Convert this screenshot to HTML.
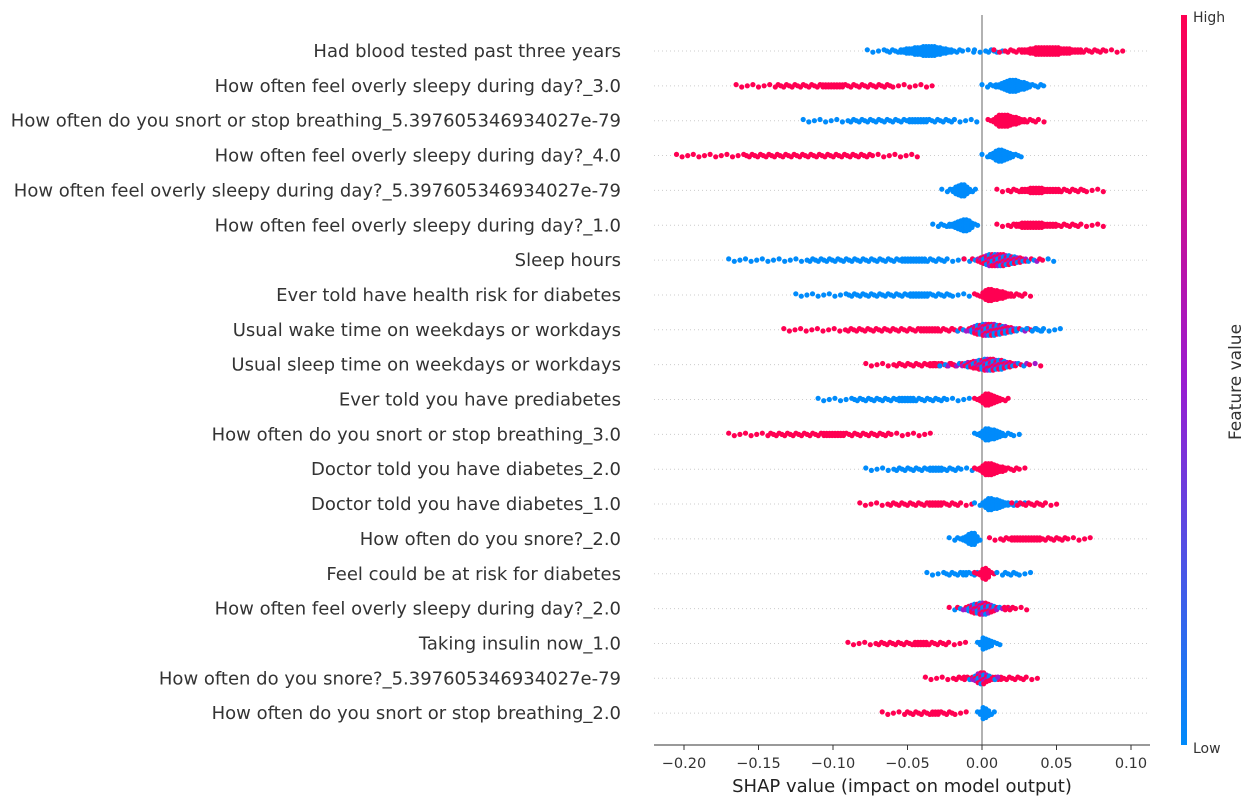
<!DOCTYPE html>
<html><head><meta charset="utf-8">
<style>
html,body{margin:0;padding:0;background:#fff;}
svg{display:block;font-family:"DejaVu Sans","Liberation Sans",sans-serif;}
</style></head>
<body>
<svg id="chart" width="1254" height="805" viewBox="0 0 1254 805" xmlns="http://www.w3.org/2000/svg">
  <defs>
    <linearGradient id="cbar" x1="0" y1="1" x2="0" y2="0">
      <stop offset="0" stop-color="#008bfb"/>
      <stop offset="0.5" stop-color="#9a1bd0"/>
      <stop offset="1" stop-color="#ff0052"/>
    </linearGradient>
  </defs>
  <g id="grid"></g>
  <line x1="982" y1="15" x2="982" y2="745" stroke="#999" stroke-width="1.5"/>
  <g id="dots"></g>
  <g id="labels"></g>
  <line x1="654" y1="745" x2="1150" y2="745" stroke="#333" stroke-width="1"/>
  <g id="xticks"></g>
  <text x="902" y="792" font-size="18" text-anchor="middle" fill="#222">SHAP value (impact on model output)</text>
  <rect x="1181" y="15" width="6" height="730" fill="url(#cbar)"/>
  <text x="1193" y="22" font-size="14" fill="#333">High</text>
  <text x="1193" y="753" font-size="14" fill="#333">Low</text>
  <text x="1241" y="382" font-size="17" fill="#333" text-anchor="middle" transform="rotate(-90 1241 382)">Feature value</text>
</svg>
<script>
const features = [
 "Had blood tested past three years",
 "How often feel overly sleepy during day?_3.0",
 "How often do you snort or stop breathing_5.397605346934027e-79",
 "How often feel overly sleepy during day?_4.0",
 "How often feel overly sleepy during day?_5.397605346934027e-79",
 "How often feel overly sleepy during day?_1.0",
 "Sleep hours",
 "Ever told have health risk for diabetes",
 "Usual wake time on weekdays or workdays",
 "Usual sleep time on weekdays or workdays",
 "Ever told you have prediabetes",
 "How often do you snort or stop breathing_3.0",
 "Doctor told you have diabetes_2.0",
 "Doctor told you have diabetes_1.0",
 "How often do you snore?_2.0",
 "Feel could be at risk for diabetes",
 "How often feel overly sleepy during day?_2.0",
 "Taking insulin now_1.0",
 "How often do you snore?_5.397605346934027e-79",
 "How often do you snort or stop breathing_2.0"
];
// groups per feature: [colour, min, max, peak, density]
const groups = [
 [["b",-0.077,-0.005,-0.035,11],["b",-0.005,0.015,0.005,1],["r",0.008,0.097,0.042,9]],
 [["r",-0.165,-0.033,-0.1,3.5],["b",0.0,0.045,0.02,13]],
 [["b",-0.12,-0.003,-0.04,3.5],["r",0.004,0.045,0.012,14]],
 [["r",-0.205,-0.04,-0.11,2.5],["b",0.0,0.03,0.012,13]],
 [["b",-0.027,-0.003,-0.013,13],["r",0.01,0.085,0.035,6]],
 [["b",-0.033,-0.002,-0.01,13],["r",0.01,0.083,0.03,7]],
 [["b",-0.17,-0.01,-0.04,3.5],["m",-0.012,0.05,0.008,14]],
 [["b",-0.125,-0.008,-0.04,3.5],["r",-0.005,0.035,0.004,13]],
 [["r",-0.133,-0.01,-0.03,3.5],["m",-0.02,0.042,0.003,14],["b",0.03,0.054,0.035,1]],
 [["r",-0.078,-0.01,-0.03,3.5],["m",-0.032,0.04,0.005,13]],
 [["b",-0.11,-0.005,-0.05,3.5],["r",-0.005,0.02,0.003,13]],
 [["r",-0.17,-0.033,-0.1,3.5],["b",-0.005,0.026,0.003,13]],
 [["b",-0.078,-0.005,-0.03,3.5],["r",-0.005,0.03,0.003,13]],
 [["r",-0.082,-0.005,-0.03,3.5],["b",-0.005,0.03,0.005,13],["r",0.02,0.052,0.03,2]],
 [["b",-0.022,0.0,-0.005,13],["r",0.005,0.075,0.025,5]],
 [["b",-0.037,0.0,-0.01,3.5],["r",-0.005,0.01,0.002,13],["b",0.01,0.034,0.015,2]],
 [["m",-0.022,0.022,0.0,13],["r",0.015,0.032,0.02,1]],
 [["r",-0.09,-0.01,-0.04,3.5],["b",-0.003,0.014,0.001,13]],
 [["r",-0.038,0.04,0.01,3.5],["m",-0.012,0.012,0.0,13]],
 [["r",-0.067,-0.01,-0.03,3.5],["b",-0.003,0.01,0.001,13]]
];
const xTicks = [-0.20,-0.15,-0.10,-0.05,0.00,0.05,0.10];
const xTickLabels = ["\u22120.20","\u22120.15","\u22120.10","\u22120.05","0.00","0.05","0.10"];

const NS="http://www.w3.org/2000/svg";
function xs(v){return 982 + v*1490;}
function ys(i){return 51 + i*34.85;}
const colors={r:"#ff0052",b:"#008bfb",p:"#a01ac8"};
const mixSeq=["r","p","b","r","b","p","r"];
const grid=document.getElementById('grid'), dots=document.getElementById('dots'), labels=document.getElementById('labels'), xt=document.getElementById('xticks');

features.forEach((f,i)=>{
  const y=ys(i);
  const l=document.createElementNS(NS,'line');
  l.setAttribute('x1',654);l.setAttribute('x2',1150);l.setAttribute('y1',y);l.setAttribute('y2',y);
  l.setAttribute('stroke','#ccc');l.setAttribute('stroke-dasharray','1 3');l.setAttribute('stroke-width','1');
  
  
  grid.appendChild(l);
  const t=document.createElementNS(NS,'text');
  t.setAttribute('x',621);t.setAttribute('y',y+6);t.setAttribute('text-anchor','end');
  t.setAttribute('font-size','18');t.setAttribute('fill','#333');
  t.textContent=f;
  
  
  labels.appendChild(t);

  groups[i].forEach((g,gi)=>{
    const [c,lo,hi,pk,dens]=g;
    const x0=xs(lo),x1=xs(hi),xp=xs(pk);
    const wl=Math.max((xp-x0)/2.2,2), wr=Math.max((x1-xp)/2.2,2);
    let k=0;
    for(let x=x0;x<=x1;x+=2.8,k++){
      const d=x<xp?(x-xp)/wl:(x-xp)/wr;
      const h=dens*Math.exp(-d*d);
      let n=Math.max(1,Math.round(h/2.2));
      if(h<0.6 && k%2==1) continue;
      for(let j=0;j<n;j++){
        const off=(j-(n-1)/2)*2.2*(n>1?1:0) + (n==1?((k%3)-1)*1.2:0);
        let cc=c;
        if(c==="m") cc=mixSeq[(k+j*2)%mixSeq.length];
        const ci=document.createElementNS(NS,'circle');
        ci.setAttribute('cx',x.toFixed(1));ci.setAttribute('cy',(y+off).toFixed(1));
        ci.setAttribute('r','2.6');ci.setAttribute('fill',colors[cc]);
        
        
        dots.appendChild(ci);
      }
    }
  });
});

xTicks.forEach((v,i)=>{
  const x=xs(v);
  const l=document.createElementNS(NS,'line');
  l.setAttribute('x1',x);l.setAttribute('x2',x);l.setAttribute('y1',745);l.setAttribute('y2',750);
  l.setAttribute('stroke','#333');
  
  
  xt.appendChild(l);
  const t=document.createElementNS(NS,'text');
  t.setAttribute('x',x);t.setAttribute('y',768);t.setAttribute('text-anchor','middle');
  t.setAttribute('font-size','14.5');t.setAttribute('fill','#333');
  t.textContent=xTickLabels[i];
  
  
  xt.appendChild(t);
});
</script>
</body></html>
